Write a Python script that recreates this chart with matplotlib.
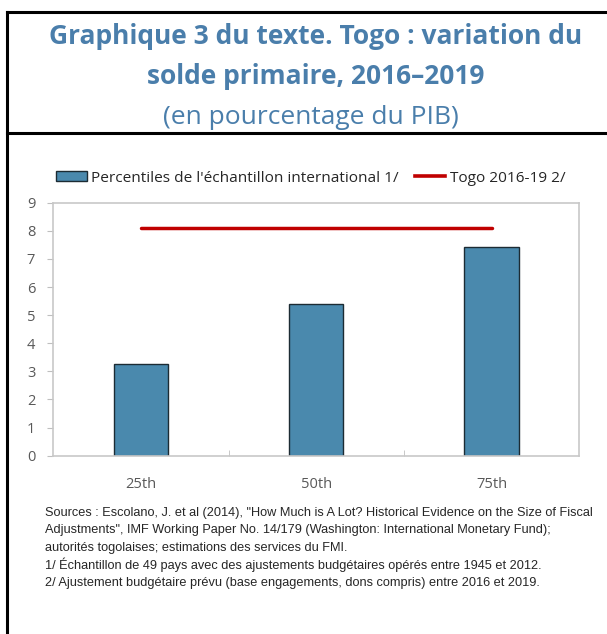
import matplotlib
matplotlib.use("Agg")
import matplotlib.pyplot as plt
from matplotlib.lines import Line2D
from matplotlib.patches import Patch

# data
categories = ["25th", "50th", "75th"]
percentiles = [3.26, 5.40, 7.42]
togo = [8.11, 8.11, 8.11]
yticks = list(range(0, 10))

title_lines = ["Graphique 3 du texte. Togo : variation du", "solde primaire, 2016\u20132019"]
subtitle = "(en pourcentage du PIB)"
notes = [
    "Sources : Escolano, J. et al (2014), \"How Much is A Lot? Historical Evidence on the Size of Fiscal",
    "Adjustments\", IMF Working Paper No. 14/179 (Washington: International Monetary Fund);",
    "autorit\u00e9s togolaises; estimations des services du FMI.",
    "1/ \u00c9chantillon de 49 pays avec des ajustements budg\u00e9taires op\u00e9r\u00e9s entre 1945 et 2012.",
    "2/ Ajustement budg\u00e9taire pr\u00e9vu (base engagements, dons compris) entre 2016 et 2019.",
]

W, H = 607, 634
blue_title = "#4A7EAB"
bar_col = "#4A89AD"
red = "#C00000"
grey = "#595959"

fig = plt.figure(figsize=(W / 100, H / 100), dpi=100)

def fx(px):
    return px / W

def fy(py):
    return 1 - py / H

# frame lines of the exhibit box
fig.add_artist(Line2D([fx(7), 1], [fy(12), fy(12)], color="black", lw=2.2))
fig.add_artist(Line2D([fx(7), 1], [fy(132.5), fy(132.5)], color="black", lw=2.2))
fig.add_artist(Line2D([fx(7), fx(7)], [fy(12), 0], color="black", lw=2.2))

# title
fig.text(fx(316), fy(37), title_lines[0], ha="center", va="center",
         fontsize=19, fontweight="bold", color=blue_title, family="Open Sans")
fig.text(fx(316), fy(76), title_lines[1], ha="center", va="center",
         fontsize=19, fontweight="bold", color=blue_title, family="Open Sans")
fig.text(fx(311), fy(117), subtitle, ha="center", va="center",
         fontsize=19, color=blue_title, family="Open Sans")

# chart
ax = fig.add_axes([fx(53.3), fy(455.7), fx(579.3 - 53.3), (455.7 - 202.7) / H])
x = range(len(categories))
ax.bar(x, percentiles, width=0.31, color=bar_col, edgecolor="#1C2B33", linewidth=1.0, zorder=2)
ax.plot(x, togo, color=red, lw=2.5, solid_capstyle="round", zorder=3)

ax.set_xlim(-0.5, 2.5)
ax.set_ylim(0, 9)
ax.set_yticks(yticks)
ax.set_xticks(list(x))
ax.set_xticklabels(categories)
ax.set_xticks([0.5, 1.5], minor=True)
ax.tick_params(axis="x", which="major", length=0, pad=15, labelsize=10.5, labelcolor=grey)
ax.tick_params(axis="x", which="minor", direction="in", length=4, color="#BFBFBF")
ax.tick_params(axis="y", direction="out", length=4, color="#BFBFBF", pad=9,
               labelsize=10.5, labelcolor=grey)
for t in ax.get_xticklabels() + ax.get_yticklabels():
    t.set_family("Open Sans")
for s in ax.spines.values():
    s.set_color("#C8C8C8")
    s.set_linewidth(1.2)

# legend
handles = [Patch(facecolor=bar_col, edgecolor="#1C2B33", linewidth=1.0),
           Line2D([0], [0], color=red, lw=2.6)]
labels = ["Percentiles de l'\u00e9chantillon international 1/", "Togo 2016-19 2/"]
leg = fig.legend(handles, labels, loc="center left", bbox_to_anchor=(fx(56), fy(178)),
                 ncol=2, frameon=False, handlelength=2.0, handleheight=0.55, handletextpad=0.3,
                 columnspacing=1.0, borderaxespad=0, borderpad=0,
                 prop={"family": "Open Sans", "size": 11.1})
for t in leg.get_texts():
    t.set_color("#262626")

# footnotes, sized so the longest line spans the same width as in the reference
renderer = fig.canvas.get_renderer()
note_texts = []
for i, line in enumerate(notes):
    note_texts.append(fig.text(fx(45), fy(516 + 17.5 * i), line, ha="left", va="baseline",
                               fontsize=9.5, color="#262626", family="Liberation Sans"))
widest = max(t.get_window_extent(renderer).width for t in note_texts)
for t in note_texts:
    t.set_fontsize(9.5 * 553 / widest)

fig.savefig("out.png", dpi=100)
